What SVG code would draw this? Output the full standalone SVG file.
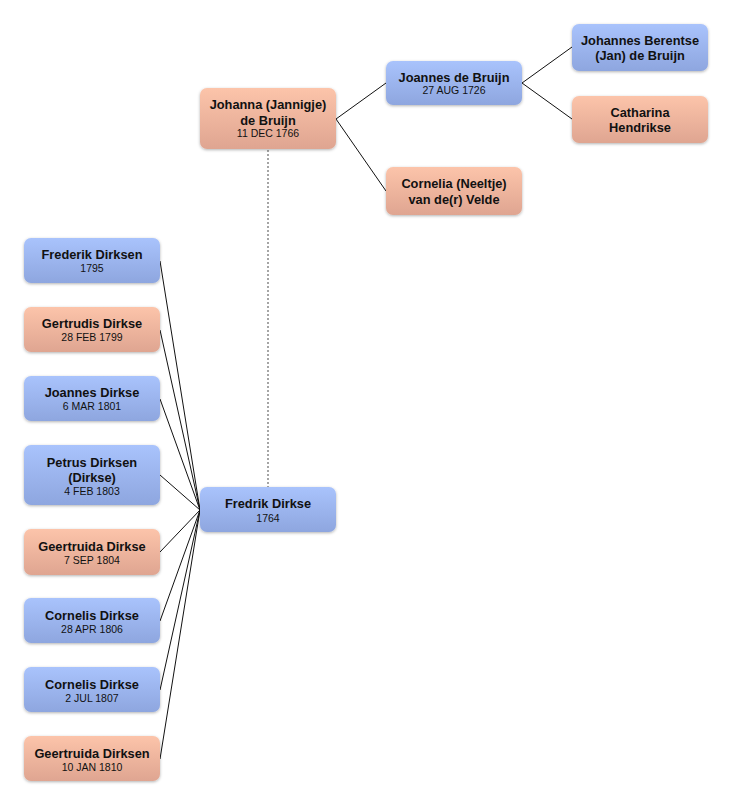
<svg xmlns="http://www.w3.org/2000/svg" width="732" height="806" viewBox="0 0 732 806">
<defs>
<linearGradient id="gb" x1="0" y1="0" x2="0" y2="1"><stop offset="0" stop-color="#a9c3fc"/><stop offset="1" stop-color="#8ea6df"/></linearGradient>
<linearGradient id="gp" x1="0" y1="0" x2="0" y2="1"><stop offset="0" stop-color="#fcc4aa"/><stop offset="1" stop-color="#dfa591"/></linearGradient>
<filter id="sh" x="-10%" y="-10%" width="120%" height="130%"><feDropShadow dx="0" dy="1" stdDeviation="1.5" flood-color="#000" flood-opacity="0.3"/></filter>
</defs>
<style>
.m{fill:url(#gb);filter:url(#sh)}
.f{fill:url(#gp);filter:url(#sh)}
.n{font-family:"Liberation Sans",Arial,sans-serif;font-size:12.8px;font-weight:bold;fill:#111;text-anchor:middle}
.d{font-family:"Liberation Sans",Arial,sans-serif;font-size:10.5px;fill:#111;text-anchor:middle}
.c{stroke:#111;stroke-width:1;fill:none}
.ds{stroke:#888;stroke-width:1.5;stroke-dasharray:2,2;fill:none}
</style>
<rect width="732" height="806" fill="#fff"/>
<g id="connectors">
<line class="ds" x1="268" y1="150" x2="268" y2="487"/>
<path class="c" d="M336 119 L386 83 M336 119 L386 191"/>
<path class="c" d="M522 83 L572 47 M522 83 L572 119"/>
<path class="c" d="M160 261 L200 510 M160 330 L200 510 M160 399 L200 510 M160 475 L200 510 M160 552 L200 510 M160 621 L200 510 M160 690 L200 510 M160 759 L200 510"/>
</g>
<g id="johanna"><rect class="f" x="200" y="88" width="136" height="61" rx="7"/><text class="n" x="268" y="109">Johanna (Jannigje)</text><text class="n" x="268" y="125">de Bruijn</text><text class="d" x="268" y="137">11 DEC 1766</text></g>
<g id="joannes"><rect class="m" x="386" y="61" width="136" height="44" rx="7"/><text class="n" x="454" y="82">Joannes de Bruijn</text><text class="d" x="454" y="94">27 AUG 1726</text></g>
<g id="cornelia"><rect class="f" x="386" y="167" width="136" height="48" rx="7"/><text class="n" x="454" y="188">Cornelia (Neeltje)</text><text class="n" x="454" y="204">van de(r) Velde</text></g>
<g id="johannesb"><rect class="m" x="572" y="24" width="136" height="47" rx="7"/><text class="n" x="640" y="45">Johannes Berentse</text><text class="n" x="640" y="60">(Jan) de Bruijn</text></g>
<g id="catharina"><rect class="f" x="572" y="96" width="136" height="47" rx="7"/><text class="n" x="640" y="117">Catharina</text><text class="n" x="640" y="132">Hendrikse</text></g>
<g id="fredrik"><rect class="m" x="200" y="487" width="136" height="45" rx="7"/><text class="n" x="268" y="508">Fredrik Dirkse</text><text class="d" x="268" y="522">1764</text></g>
<g id="c1"><rect class="m" x="24" y="238" width="136" height="45" rx="7"/><text class="n" x="92" y="259">Frederik Dirksen</text><text class="d" x="92" y="272">1795</text></g>
<g id="c2"><rect class="f" x="24" y="307" width="136" height="45" rx="7"/><text class="n" x="92" y="328">Gertrudis Dirkse</text><text class="d" x="92" y="341">28 FEB 1799</text></g>
<g id="c3"><rect class="m" x="24" y="376" width="136" height="45" rx="7"/><text class="n" x="92" y="397">Joannes Dirkse</text><text class="d" x="92" y="410">6 MAR 1801</text></g>
<g id="c4"><rect class="m" x="24" y="445" width="136" height="60" rx="7"/><text class="n" x="92" y="467">Petrus Dirksen</text><text class="n" x="92" y="482">(Dirkse)</text><text class="d" x="92" y="495">4 FEB 1803</text></g>
<g id="c5"><rect class="f" x="24" y="529" width="136" height="46" rx="7"/><text class="n" x="92" y="551">Geertruida Dirkse</text><text class="d" x="92" y="564">7 SEP 1804</text></g>
<g id="c6"><rect class="m" x="24" y="598" width="136" height="45" rx="7"/><text class="n" x="92" y="620">Cornelis Dirkse</text><text class="d" x="92" y="633">28 APR 1806</text></g>
<g id="c7"><rect class="m" x="24" y="667" width="136" height="45" rx="7"/><text class="n" x="92" y="689">Cornelis Dirkse</text><text class="d" x="92" y="702">2 JUL 1807</text></g>
<g id="c8"><rect class="f" x="24" y="736" width="136" height="45" rx="7"/><text class="n" x="92" y="758">Geertruida Dirksen</text><text class="d" x="92" y="771">10 JAN 1810</text></g>
</svg>
